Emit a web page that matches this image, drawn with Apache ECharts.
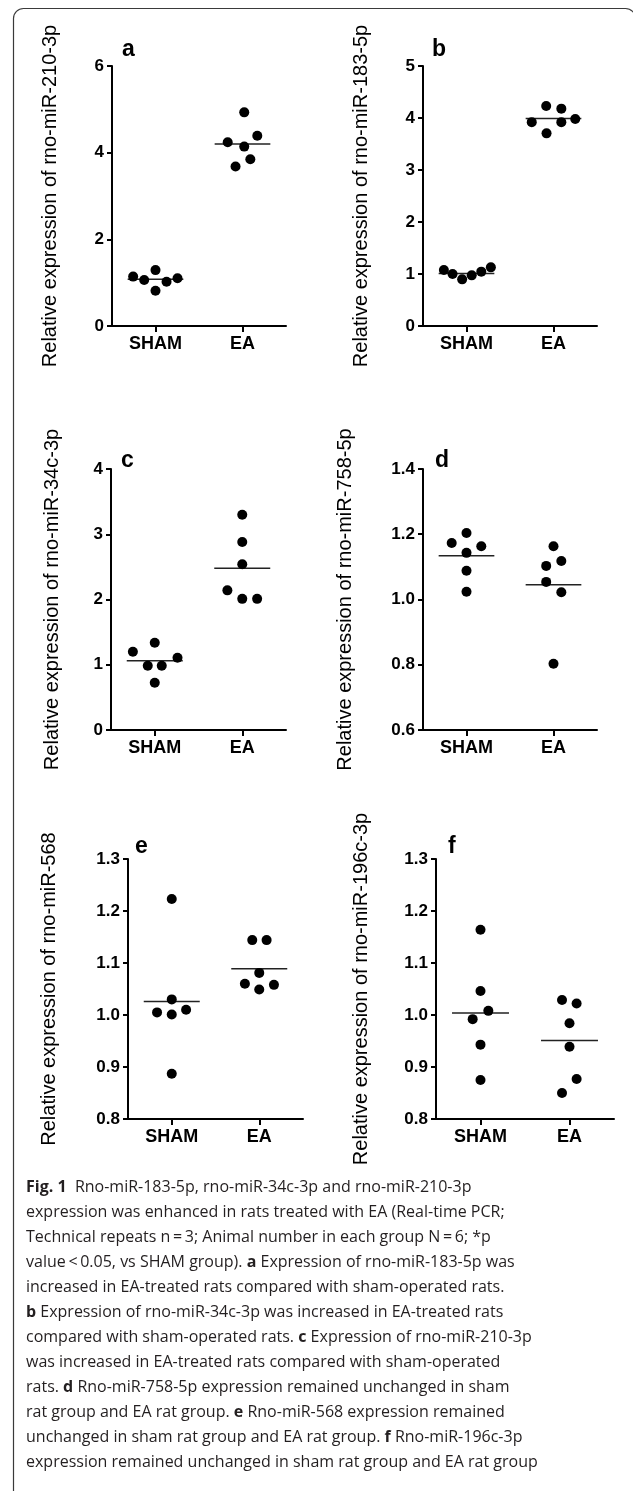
<!DOCTYPE html>
<html>
<head>
<meta charset="utf-8">
<script src="https://cdn.jsdelivr.net/npm/echarts@6/dist/echarts.min.js"></script>
<style>
html,body{margin:0;padding:0;background:#fff;}
#chart{width:633px;height:1491px;}
</style>
</head>
<body>
<div id="chart"></div>
<script>
// ---------- data ----------
const categories = ['SHAM', 'EA'];
const panelLetters = ['a', 'b', 'c', 'd', 'e', 'f'];
const yTitles = [
  'Relative expression of rno-miR-210-3p',
  'Relative expression of rno-miR-183-5p',
  'Relative expression of rno-miR-34c-3p',
  'Relative expression of rno-miR-758-5p',
  'Relative expression of rno-miR-568',
  'Relative expression of rno-miR-196c-3p'
];

// tick values of each panel's y axis
const yTicksA = [0, 2, 4, 6];
const yTicksB = [0, 1, 2, 3, 4, 5];
const yTicksC = [0, 1, 2, 3, 4];
const yTicksD = [0.6, 0.8, 1.0, 1.2, 1.4];
const yTicksE = [0.8, 0.9, 1.0, 1.1, 1.2, 1.3];
const yTicksF = [0.8, 0.9, 1.0, 1.1, 1.2, 1.3];

// individual animals (values) and their horizontal spread within the group (category units)
const shamA = [1.14, 1.06, 1.29, 0.815, 1.02, 1.10];
const shamSpreadA = [-0.257, -0.13, 0, 0, 0.127, 0.253];
const eaA = [4.93, 4.24, 4.14, 4.39, 3.85, 3.68];
const eaSpreadA = [0.02, -0.17, 0.02, 0.17, 0.09, -0.08];
const meanA = [1.08, 4.20];

const shamB = [1.077, 1.0, 0.897, 0.974, 1.045, 1.128];
const shamSpreadB = [-0.26, -0.16, -0.05, 0.06, 0.17, 0.28];
const eaB = [3.92, 4.23, 3.705, 4.18, 3.92, 3.98];
const eaSpreadB = [-0.25, -0.084, -0.08, 0.09, 0.09, 0.25];
const meanB = [1.01, 3.99];

const shamC = [1.199, 1.337, 0.985, 0.985, 1.107, 0.724];
const shamSpreadC = [-0.25, 0, -0.08, 0.08, 0.26, 0];
const eaC = [3.30, 2.88, 2.54, 2.14, 2.01, 2.01];
const eaSpreadC = [0, 0, 0, -0.17, 0, 0.17];
const meanC = [1.06, 2.48];

const shamD = [1.173, 1.204, 1.163, 1.143, 1.088, 1.024];
const shamSpreadD = [-0.17, 0, 0.17, 0, 0, 0];
const eaD = [1.163, 1.103, 1.118, 1.054, 1.022, 0.803];
const eaSpreadD = [0, -0.084, 0.09, -0.084, 0.09, 0];
const meanD = [1.134, 1.045];

const shamE = [1.223, 1.030, 1.005, 1.001, 1.010, 0.887];
const shamSpreadE = [0, 0, -0.168, 0, 0.164, 0];
const eaE = [1.144, 1.144, 1.081, 1.060, 1.049, 1.058];
const eaSpreadE = [-0.08, 0.084, 0, -0.164, 0, 0.168];
const meanE = [1.026, 1.089];

const shamF = [1.164, 1.046, 1.008, 0.992, 0.943, 0.875];
const shamSpreadF = [0, 0, 0.088, -0.088, 0, 0];
const eaF = [1.029, 1.022, 0.984, 0.939, 0.877, 0.850];
const eaSpreadF = [-0.084, 0.08, 0, 0, 0.08, -0.084];
const meanF = [1.004, 0.951];

const captionLines = [
  '{b|Fig. 1}  Rno-miR-183-5p, rno-miR-34c-3p and rno-miR-210-3p',
  'expression was enhanced in rats treated with EA (Real-time PCR;',
  'Technical repeats n\u2009=\u20093; Animal number in each group N\u2009=\u20096; *p',
  'value\u2009<\u20090.05, vs SHAM group). {b|a} Expression of rno-miR-183-5p was',
  'increased in EA-treated rats compared with sham-operated rats.',
  '{b|b} Expression of rno-miR-34c-3p was increased in EA-treated rats',
  'compared with sham-operated rats. {b|c} Expression of rno-miR-210-3p',
  'was increased in EA-treated rats compared with sham-operated',
  'rats. {b|d} Rno-miR-758-5p expression remained unchanged in sham',
  'rat group and EA rat group. {b|e} Rno-miR-568 expression remained',
  'unchanged in sham rat group and EA rat group. {b|f} Rno-miR-196c-3p',
  'expression remained unchanged in sham rat group and EA rat group'
];

// ---------- layout / style ----------
const panels = [
  {ticks: yTicksA, sham: shamA, shamSp: shamSpreadA, ea: eaA, eaSp: eaSpreadA, mean: meanA, dec: 0,
   grid: {left: 112, top: 66, width: 174, height: 260}, gap: 52, letter: [122, 55]},
  {ticks: yTicksB, sham: shamB, shamSp: shamSpreadB, ea: eaB, eaSp: eaSpreadB, mean: meanB, dec: 0,
   grid: {left: 423, top: 66, width: 174, height: 260}, gap: 52, letter: [432, 55]},
  {ticks: yTicksC, sham: shamC, shamSp: shamSpreadC, ea: eaC, eaSp: eaSpreadC, mean: meanC, dec: 0,
   grid: {left: 111, top: 469, width: 175, height: 261}, gap: 49, letter: [121, 466]},
  {ticks: yTicksD, sham: shamD, shamSp: shamSpreadD, ea: eaD, eaSp: eaSpreadD, mean: meanD, dec: 1,
   grid: {left: 423, top: 469, width: 174, height: 261}, gap: 68, letter: [435, 466]},
  {ticks: yTicksE, sham: shamE, shamSp: shamSpreadE, ea: eaE, eaSp: eaSpreadE, mean: meanE, dec: 1,
   grid: {left: 128, top: 859, width: 175, height: 260}, gap: 69, letter: [135, 852]},
  {ticks: yTicksF, sham: shamF, shamSp: shamSpreadF, ea: eaF, eaSp: eaSpreadF, mean: meanF, dec: 1,
   grid: {left: 436, top: 859, width: 178, height: 260}, gap: 65, letter: [448, 852]}
];

const FONT = '"Liberation Sans", Arial, Helvetica, sans-serif';
const CAP_FONT = '"Open Sans", "Noto Sans", sans-serif';
const MEAN_HALF = 0.32;

const grids = [], xAxes = [], yAxes = [], series = [], graphics = [];

panels.forEach((p, i) => {
  grids.push(Object.assign({containLabel: false, outerBoundsMode: 'none'}, p.grid));
  // visible category axis
  xAxes.push({
    type: 'category', gridIndex: i, data: categories, position: 'bottom',
    axisLine: {show: true, onZero: false, lineStyle: {color: '#000', width: 2}},
    axisTick: {show: true, alignWithLabel: true, length: 6, lineStyle: {color: '#000', width: 2}},
    axisLabel: {color: '#000', fontFamily: FONT, fontWeight: 'bold', fontSize: 18, margin: 9},
    splitLine: {show: false}
  });
  // hidden numeric axis used to place the dots within each group
  xAxes.push({
    type: 'value', gridIndex: i, min: -0.5, max: 1.5, show: false,
    axisLine: {onZero: false}
  });
  const t = p.ticks;
  yAxes.push({
    type: 'value', gridIndex: i, position: 'left',
    min: t[0], max: t[t.length - 1], interval: t[1] - t[0],
    name: yTitles[i], nameLocation: 'middle', nameGap: p.gap, nameRotate: 90,
    nameTextStyle: {color: '#000', fontFamily: FONT, fontSize: 20},
    axisLine: {show: true, onZero: false, lineStyle: {color: '#000', width: 2}},
    axisTick: {show: true, length: 5, lineStyle: {color: '#000', width: 2}},
    axisLabel: {color: '#000', fontFamily: FONT, fontWeight: 'bold', fontSize: 17, margin: 8,
      formatter: v => Number(v).toFixed(p.dec)},
    splitLine: {show: false}
  });
  const groups = [[p.sham, p.shamSp], [p.ea, p.eaSp]];
  groups.forEach((g, gi) => {
    series.push({
      type: 'scatter', xAxisIndex: 2 * i + 1, yAxisIndex: i,
      symbol: 'circle', symbolSize: 10, itemStyle: {color: '#000', opacity: 1},
      data: g[0].map((v, k) => [gi + g[1][k], v]),
      z: 3, silent: true
    });
    series.push({
      type: 'line', xAxisIndex: 2 * i + 1, yAxisIndex: i,
      symbol: 'none', lineStyle: {color: '#222', width: 1.5},
      data: [[gi - MEAN_HALF, p.mean[gi]], [gi + MEAN_HALF, p.mean[gi]]],
      z: 2, silent: true
    });
  });
  graphics.push({
    type: 'text', left: p.letter[0], top: p.letter[1] - 17,
    style: {text: panelLetters[i], fill: '#000', font: 'bold 23px ' + FONT}
  });
});

// frame
graphics.push({
  type: 'rect', shape: {x: 13.5, y: 8.5, width: 622, height: 1600, r: [10, 10, 0, 0]},
  style: {fill: 'none', stroke: '#3a3a3a', lineWidth: 1.2}, silent: true
});

// caption
captionLines.forEach((line, k) => {
  graphics.push({
    type: 'text', x: 26, y: 1187 + 25 * k,
    style: {
      text: line, fill: '#231f20',
      font: '16px ' + CAP_FONT,
      verticalAlign: 'middle', align: 'left',
      rich: {b: {font: 'bold 16px ' + CAP_FONT, fill: '#231f20'}}
    }
  });
});

const chart = echarts.init(document.getElementById('chart'), null, {renderer: 'canvas'});
chart.setOption({
  animation: false,
  backgroundColor: '#fff',
  grid: grids, xAxis: xAxes, yAxis: yAxes, series: series, graphic: graphics
});
</script>
</body>
</html>
